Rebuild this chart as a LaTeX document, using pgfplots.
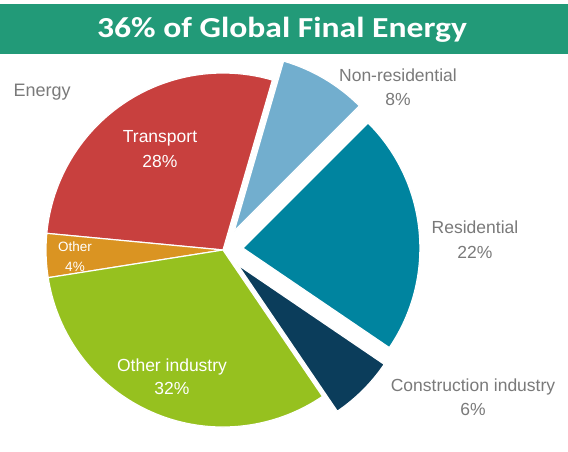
\documentclass[border=0pt]{standalone}
\usepackage{pgfplots}
\usepackage{pgfplotstable}
\pgfplotsset{compat=1.18}
\usepackage{fontspec}
\setmainfont{Liberation Sans}
\newfontfamily\titlefont{Carlito}
\definecolor{banner}{HTML}{229A78}
\definecolor{slice0}{HTML}{C8403E}
\definecolor{slice1}{HTML}{DA9422}
\definecolor{slice2}{HTML}{96C11F}
\definecolor{slice3}{HTML}{0B3D5B}
\definecolor{slice4}{HTML}{00849F}
\definecolor{slice5}{HTML}{72AECE}
\definecolor{lbl}{HTML}{7A7A7A}
\pgfplotstableread{
name value explode
Transport 28 0
Other 4 0
OtherIndustry 32 0
Construction 6 21
Residential 22 20
NonResidential 8 22
}\piedata
\begin{document}
\begin{tikzpicture}
\begin{axis}[
  x=1pt, y=1pt,
  xmin=0, xmax=568, ymin=0, ymax=452,
  hide axis, clip=false,
]
\fill[white] (axis cs:0,0) rectangle (axis cs:568,452);
\fill[banner] (axis cs:0,398) rectangle (axis cs:568,448);
\node[text=white, font=\titlefont\bfseries\fontsize{29}{32}\selectfont, xscale=1.16, transform shape] at (axis cs:282,422) {36\% of Global Final Energy};
\pgfmathsetmacro\angstart{73.8}
\pgfplotsforeachungrouped \i in {0,...,5}{%
  \pgfplotstablegetelem{\i}{value}\of\piedata \let\v\pgfplotsretval
  \pgfplotstablegetelem{\i}{explode}\of\piedata \let\ex\pgfplotsretval
  \pgfmathsetmacro\angend{\angstart+3.6*\v}%
  \pgfmathsetmacro\angmid{(\angstart+\angend)/2}%
  \pgfmathsetmacro\cx{223+\ex*cos(\angmid)}%
  \pgfmathsetmacro\cy{202+\ex*sin(\angmid)}%
  \edef\temp{\noexpand\filldraw[fill=slice\i, draw=white, line width=1.2pt, line join=round] (axis cs:\cx,\cy) -- ++(\angstart:177pt) arc[start angle=\angstart, end angle=\angend, radius=177pt] -- cycle;}%
  \temp
  \global\let\angstart\angend
}
\node[anchor=west, text=lbl, font=\fontsize{18}{20}\selectfont] at (axis cs:10,360) {Energy};
\node[align=center, text=white, font=\fontsize{17.5}{25}\selectfont] at (axis cs:160,302.5) {Transport\\28\%};
\node[align=center, text=white, font=\fontsize{13.5}{20}\selectfont] at (axis cs:75,195) {Other\\4\%};
\node[align=center, text=white, font=\fontsize{17.5}{23}\selectfont] at (axis cs:172,75.5) {Other industry\\32\%};
\node[align=center, text=lbl, font=\fontsize{17.5}{24}\selectfont] at (axis cs:398,365) {Non-residential\\8\%};
\node[align=center, text=lbl, font=\fontsize{17.5}{25}\selectfont] at (axis cs:475,212.5) {Residential\\22\%};
\node[align=center, text=lbl, font=\fontsize{17.5}{24}\selectfont] at (axis cs:473,55) {Construction industry\\6\%};
\end{axis}
\end{tikzpicture}
\end{document}
